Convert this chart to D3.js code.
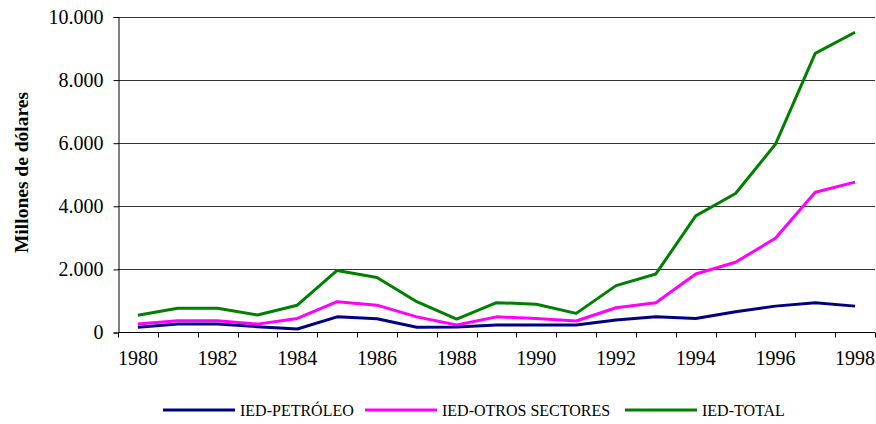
<!DOCTYPE html>
<html>
<head>
<meta charset="utf-8">
<script src="https://cdn.jsdelivr.net/npm/d3@7"></script>
<style>
  body { margin: 0; background: #fff; }
</style>
</head>
<body>
<script>
var w = 876;
var h = 424;
var serif = "Liberation Serif";

// data (millones de dólares)
var years = [1980, 1981, 1982, 1983, 1984, 1985, 1986, 1987, 1988, 1989,
             1990, 1991, 1992, 1993, 1994, 1995, 1996, 1997, 1998];
var petroleo = [150, 250, 250, 170, 95, 480, 420, 150, 160, 220,
                220, 220, 380, 480, 430, 640, 820, 930, 820];
var otros = [250, 360, 360, 250, 430, 960, 850, 480, 220, 480,
             430, 350, 770, 930, 1840, 2210, 2970, 4430, 4750];
var total = [530, 750, 750, 540, 850, 1950, 1730, 960, 410, 930,
             880, 590, 1470, 1840, 3680, 4390, 5950, 8830, 9500];
var yTicks = [0, 2000, 4000, 6000, 8000, 10000];

var seriesNames = ["IED-PETRÓLEO", "IED-OTROS SECTORES", "IED-TOTAL"];
var seriesColors = ["#000080", "#ff00ff", "#008000"];

var plotLeft = 118, plotRight = 875, plotTop = 16.5, plotBottom = 332;

window.onload = function() {
  var svg = d3.select("body").append("svg")
              .attr("width", w)
              .attr("height", h)
              .attr("font-family", serif);

  var x = d3.scaleBand().domain(years).range([plotLeft, plotRight]);
  var y = d3.scaleLinear().domain([0, 10000]).range([plotBottom, plotTop]);

  // gridlines
  svg.append("g")
     .selectAll("line")
     .data(yTicks.filter(function(d) { return d > 0; }))
     .enter().append("line")
     .attr("x1", plotLeft).attr("x2", plotRight)
     .attr("y1", function(d) { return Math.round(y(d)) + 0.5; })
     .attr("y2", function(d) { return Math.round(y(d)) + 0.5; })
     .attr("stroke", "#333")
     .attr("stroke-width", 1);

  // y axis
  var yAxis = svg.append("g")
     .attr("transform", "translate(" + (plotLeft + 0.5) + ",0.5)")
     .call(d3.axisLeft(y).tickValues(yTicks).tickSize(5).tickPadding(10)
       .tickFormat(function(d) { return d3.format(",")(d).replace(/,/g, "."); }));
  yAxis.attr("font-family", serif).attr("font-size", 20);
  yAxis.select(".domain").attr("stroke", "#000");
  yAxis.selectAll("text").attr("fill", "#000");

  // x axis: ticks between categories, labels on every other year
  var xg = svg.append("g").attr("transform", "translate(0," + (Math.round(plotBottom) + 0.5) + ")");
  xg.append("line").attr("x1", plotLeft).attr("x2", plotRight).attr("stroke", "#000");
  xg.selectAll(".tk")
    .data(years.concat([null]))
    .enter().append("line")
    .attr("class", "tk")
    .attr("x1", function(d, i) { return Math.round(plotLeft + i * x.step()) + 0.5; })
    .attr("x2", function(d, i) { return Math.round(plotLeft + i * x.step()) + 0.5; })
    .attr("y1", 0).attr("y2", 5)
    .attr("stroke", "#000");
  xg.selectAll(".lbl")
    .data(years.filter(function(d) { return d % 2 == 0; }))
    .enter().append("text")
    .attr("class", "lbl")
    .attr("x", function(d) { return x(d) + x.bandwidth() / 2; })
    .attr("y", 32.5)
    .attr("text-anchor", "middle")
    .attr("font-family", serif)
    .attr("font-size", 20)
    .text(function(d) { return d; });

  // lines
  var line = d3.line()
    .x(function(d, i) { return x(years[i]) + x.bandwidth() / 2; })
    .y(function(d) { return y(d); });

  [petroleo, otros, total].forEach(function(s, i) {
    svg.append("path")
       .datum(s)
       .attr("d", line)
       .attr("fill", "none")
       .attr("stroke", seriesColors[i])
       .attr("stroke-width", 3)
       .attr("stroke-linejoin", "round");
  });

  // y label
  svg.append("text")
     .attr("transform", "translate(28,172.5) rotate(-90)")
     .attr("text-anchor", "middle")
     .attr("font-family", serif)
     .attr("font-size", 19.5)
     .attr("font-weight", "bold")
     .text("Millones de dólares");

  // legend
  var legX = [163, 365, 625];
  var legend = svg.selectAll(".legend")
     .data(seriesNames)
     .enter().append("g")
     .attr("class", "legend")
     .attr("transform", function(d, i) { return "translate(" + legX[i] + ",410)"; });
  legend.append("line")
     .attr("x1", 0).attr("x2", 72)
     .attr("stroke", function(d, i) { return seriesColors[i]; })
     .attr("stroke-width", 3);
  legend.append("text")
     .attr("x", 77).attr("y", 6)
     .attr("font-family", serif)
     .attr("font-size", 16)
     .text(function(d) { return d; });
};
</script>
</body>
</html>
